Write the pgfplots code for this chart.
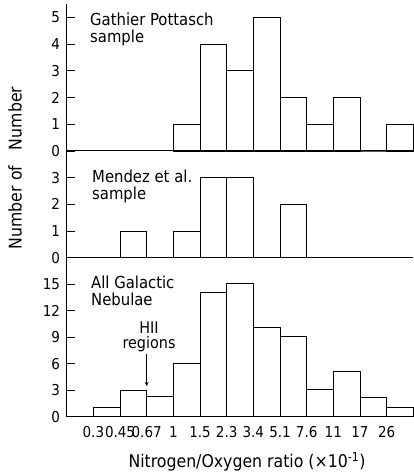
\documentclass[border=0pt]{standalone}
\usepackage{fontspec}
\setmainfont{DejaVu Sans Condensed}
\usepackage{pgfplots}
\pgfplotsset{compat=1.18}
\begin{document}
\fontsize{16.5}{17}\selectfont
\begin{tikzpicture}[x=1pt,y=1pt]
\pgfplotsset{
  panel/.style={
    scale only axis, width=346.6pt, xmin=0, xmax=13, ymin=0,
    anchor=south west, clip=false,
    axis x line=bottom, axis y line=left,
    axis line style={-, line width=1pt},
    tick align=inside, major tick length=8.5pt,
    ytick style={line width=0.9pt, black},
    xtick style={draw=none},
    /pgf/number format/assume math mode=true,
    tick label style={font=\fontsize{15}{16}\selectfont},
    yticklabel style={xshift=-1pt},
    xticklabel style={yshift=-4pt},
  },
  bars/.style={ybar interval, draw=black, fill=none, line width=0.9pt},
}

% Gathier Pottasch sample
\begin{axis}[panel, at={(66.7pt,323pt)}, height=147pt, ymax=5.5,
  ytick={0,1,2,3,4,5}, xtick=\empty]
\addplot[bars] coordinates {(4,1) (5,4) (6,3) (7,5) (8,2) (9,1) (10,2) (11,0) (12,1) (13,1)};
\end{axis}

% Mendez et al. sample
\begin{axis}[panel, at={(66.7pt,216.3pt)}, height=106.7pt, ymax=4,
  ytick={0,1,2,3}, xtick=\empty]
\addplot[bars] coordinates {(2,1) (3,0) (4,1) (5,3) (6,3) (7,0) (8,2) (9,2)};
\end{axis}

% All galactic nebulae
\begin{axis}[panel, at={(66.7pt,57.3pt)}, height=159pt, ymax=18,
  ytick={0,3,6,9,12,15},
  xtick={1,2,3,4,5,6,7,8,9,10,11,12},
  xticklabels={0.3,0.45,0.67,1,1.5,2.3,3.4,5.1,7.6,11,17,26}]
\addplot[bars] coordinates {(1,1) (2,3) (3,2.3) (4,6.05) (5,14.1) (6,15.1) (7,10.05) (8,9.1) (9,3.1) (10,5.15) (11,2.2) (12,1.1) (13,1.1)};
\end{axis}

\node[anchor=west, align=left, inner sep=0pt] at (90,445) {Gathier Pottasch\\sample};
\node[anchor=west, align=left, inner sep=0pt] at (92,288) {Mendez et al.\\sample};
\node[anchor=west, align=left, inner sep=0pt] at (91,183) {All Galactic\\Nebulae};
\node[align=center, inner sep=0pt, font=\fontsize{16}{15.5}\selectfont] at (149,137) {HII\\regions};
\draw[-stealth, line width=0.8pt] (146.7,120) -- (146.7,88);
\node[rotate=90, font=\fontsize{17.5}{18}\selectfont] at (15,306) {Number of\hspace{0.9em}Number};
\node[font=\fontsize{17.5}{18}\selectfont] at (247,12) {Nitrogen/Oxygen ratio (×10\textsuperscript{-1})};

\pgfresetboundingbox
\useasboundingbox (0,0) rectangle (413,474);
\end{tikzpicture}
\end{document}
